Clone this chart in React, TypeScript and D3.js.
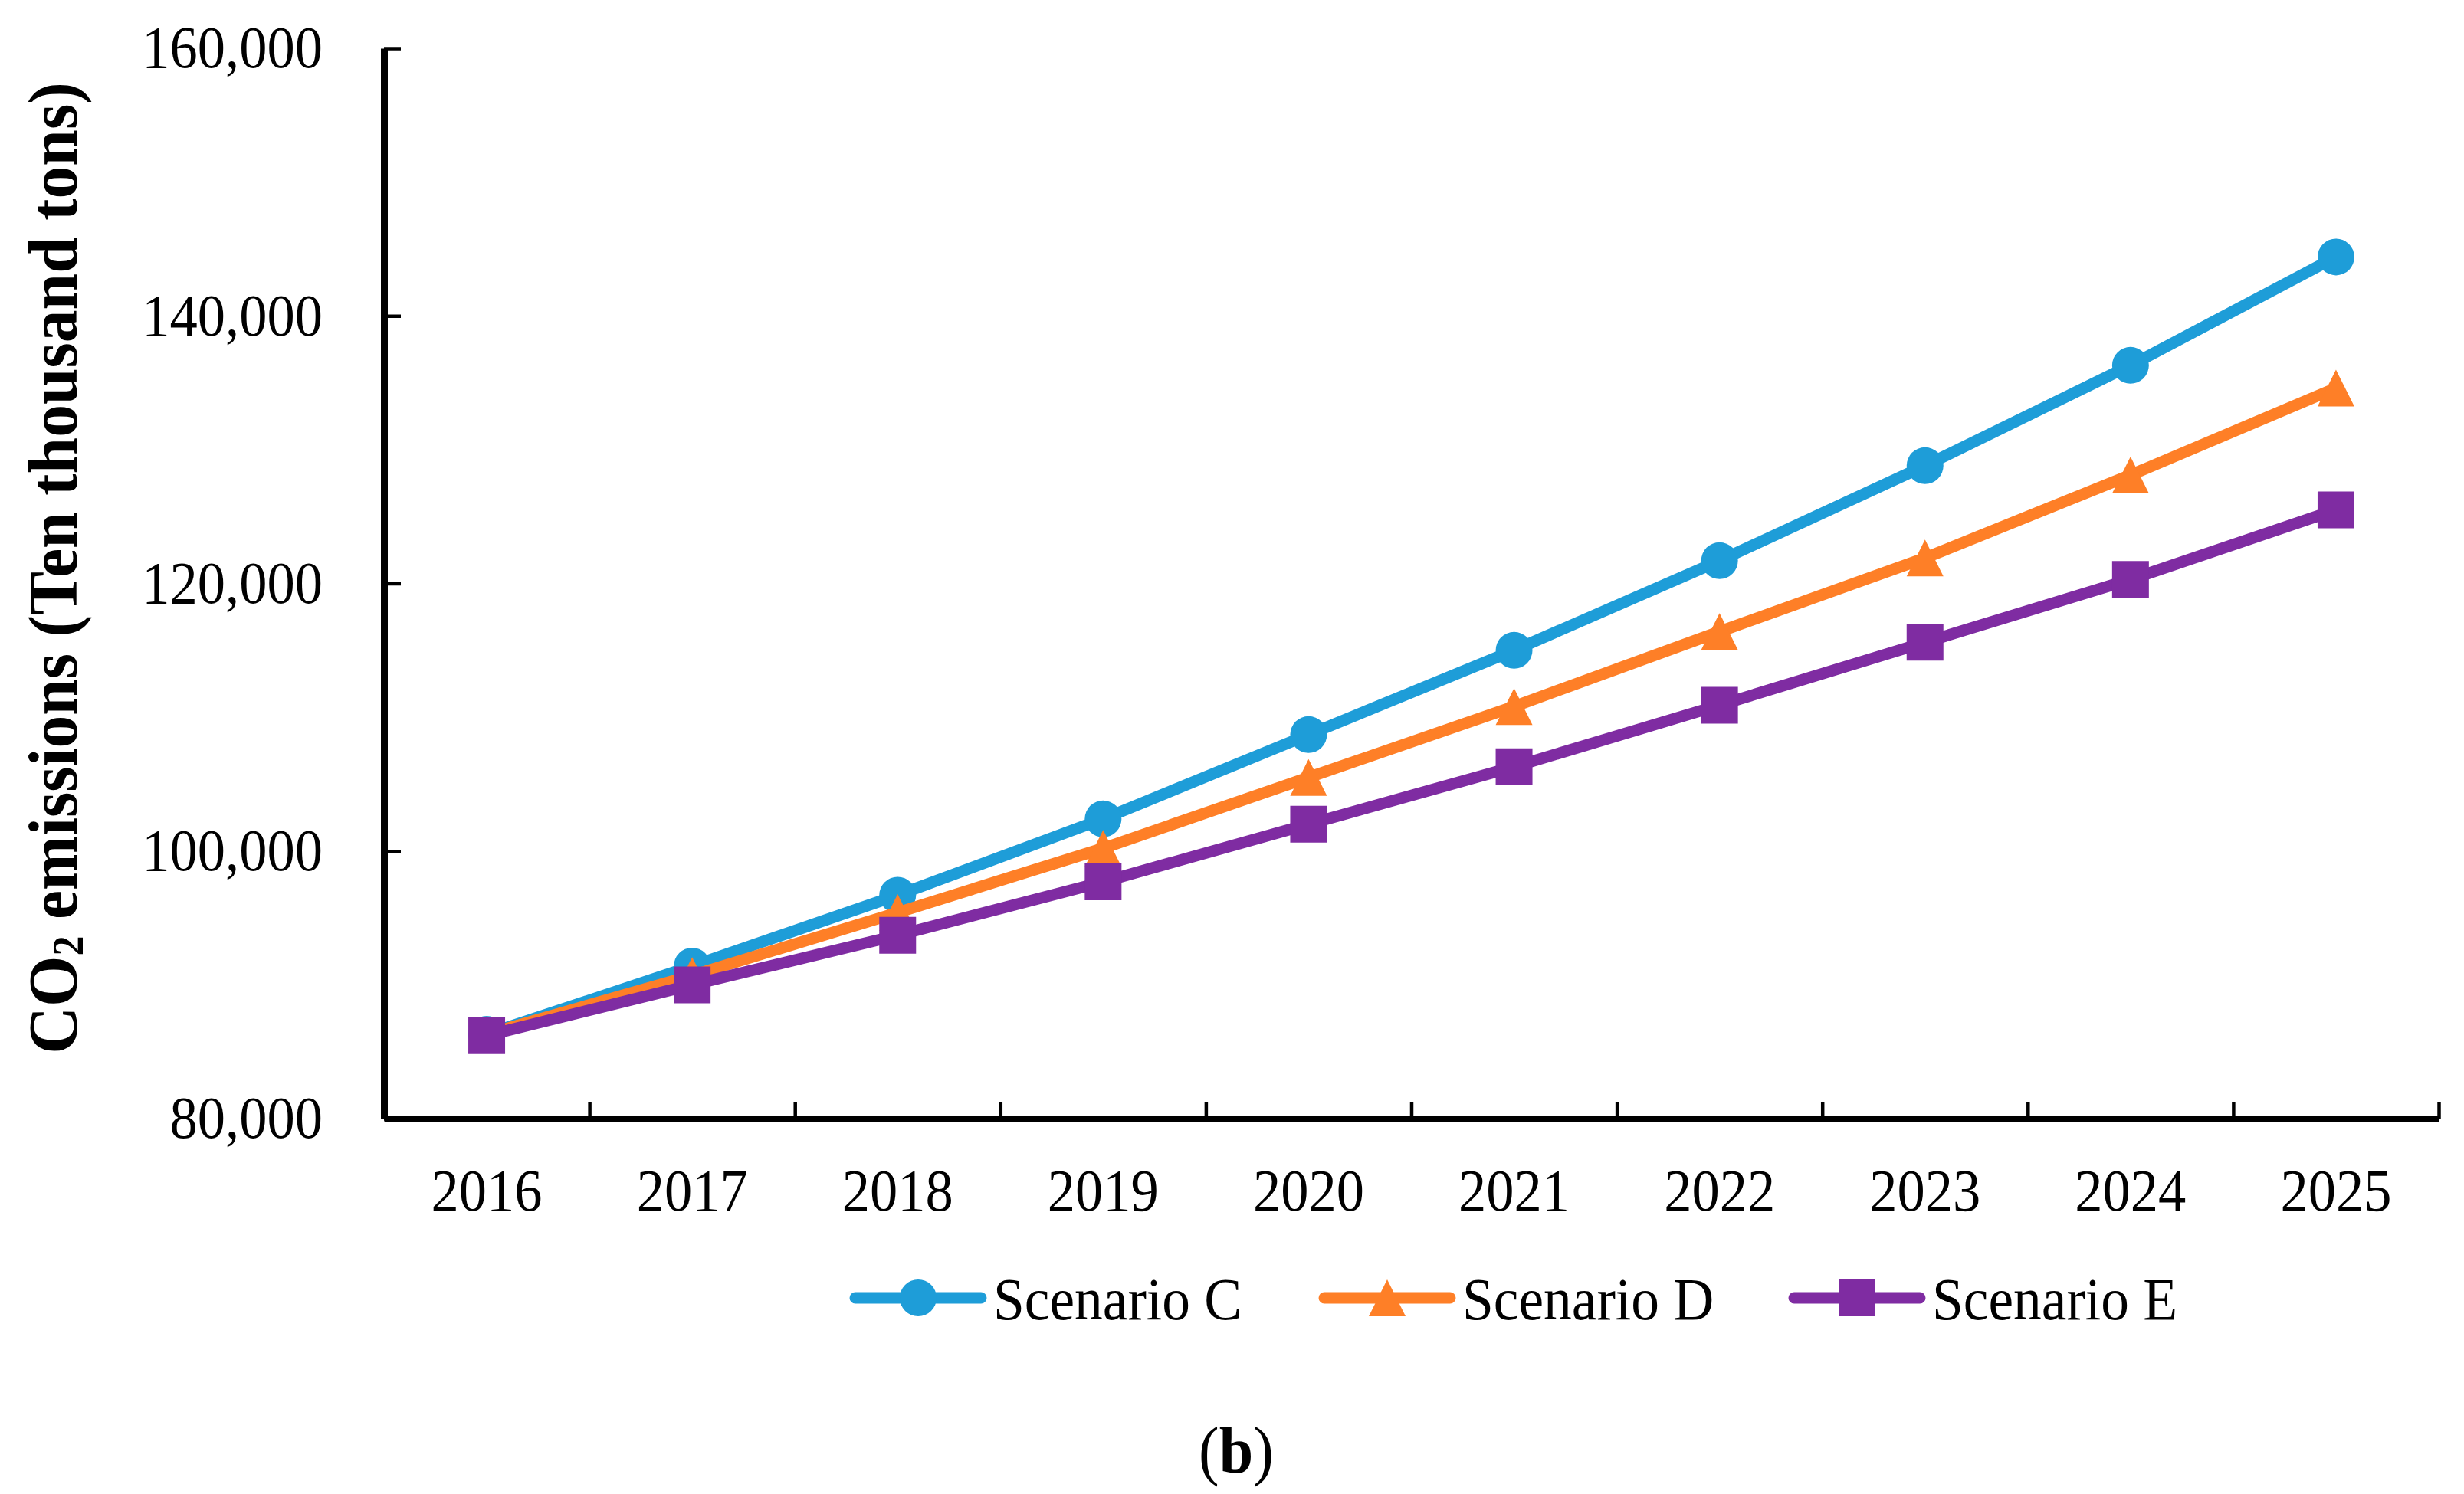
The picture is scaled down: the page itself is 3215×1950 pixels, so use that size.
import React, { useEffect, useRef } from 'react'
import * as d3 from 'd3'

const years = ['2016', '2017', '2018', '2019', '2020', '2021', '2022', '2023', '2024', '2025']
const scenarioC = [86300, 91400, 96700, 102400, 108700, 115000, 121700, 128800, 136300, 144400]
const scenarioD = [86300, 90700, 95400, 100200, 105500, 110800, 116400, 121900, 128100, 134600]
const scenarioE = [86200, 90000, 93700, 97700, 102000, 106300, 110900, 115600, 120300, 125500]
const yTicks = [80000, 100000, 120000, 140000, 160000]

const series = [
  { name: 'Scenario C', values: scenarioC, color: '#1E9DD8', shape: 'circle' },
  { name: 'Scenario D', values: scenarioD, color: '#FE7F27', shape: 'triangle' },
  { name: 'Scenario E', values: scenarioE, color: '#7F2CA2', shape: 'square' },
]

const W = 3215
const H = 1950
const FONT = '"Times New Roman", "Liberation Serif", serif'
const SX = 0.93

export default function App() {
  const ref = useRef<SVGSVGElement | null>(null)

  useEffect(() => {
    document.body.style.margin = '0'
    const svg = d3.select(ref.current!)
    svg.selectAll('*').remove()
    const margin = { top: 63, right: 33, bottom: 490, left: 501 }
    const left = margin.left, right = W - margin.right
    const top = margin.top, bottom = H - margin.bottom

    const x = d3.scaleBand<string>().domain(years).range([left, right])
    const xIdx = d3.scaleLinear().domain([0, years.length]).range([left, right])
    const y = d3.scaleLinear().domain([80000, 160000]).range([bottom, top])
    const cx = (yr: string) => (x(yr) ?? 0) + x.bandwidth() / 2

    const markerPath = (shape: string, s: number) => {
      if (shape === 'circle') return d3.symbol(d3.symbolCircle, Math.PI * (s / 2) ** 2)()
      if (shape === 'square') return d3.symbol(d3.symbolSquare, s * s)()
      const h = s
      return `M0,${-h / 2}L${s / 2},${h / 2}L${-s / 2},${h / 2}Z`
    }

    // x axis: ticks at category boundaries, pointing inward
    const gx = svg.append('g').attr('transform', `translate(0,${bottom})`)
      .call(d3.axisBottom(xIdx).ticks(years.length).tickSize(-22).tickSizeOuter(0).tickFormat(() => ''))
    gx.select('.domain').attr('stroke-width', 9).attr('stroke', '#000')
    gx.selectAll('.tick line').attr('stroke-width', 4.5).attr('stroke', '#000')
    gx.selectAll('.tick').filter((d: any) => d === 0).remove()

    // x labels
    const gxl = svg.append('g').attr('transform', `translate(0,${bottom})`)
      .call(d3.axisBottom(x).tickSize(0).tickPadding(0))
    gxl.select('.domain').remove()
    gxl.selectAll('.tick text')
      .attr('font-family', FONT).attr('font-size', 78).attr('fill', '#000')
      .attr('dy', null).attr('y', 120)
      .attr('transform', `scale(${SX},1)`)

    // y axis
    const gy = svg.append('g').attr('transform', `translate(${left},0)`)
      .call(d3.axisLeft(y).tickValues(yTicks).tickSize(-22).tickSizeOuter(0).tickPadding(80 / SX).tickFormat(d3.format(',')))
    gy.select('.domain').attr('stroke-width', 9).attr('stroke', '#000')
    gy.selectAll('.tick line').attr('stroke-width', 4.5).attr('stroke', '#000')
    gy.selectAll('.tick text')
      .attr('font-family', FONT).attr('font-size', 78).attr('fill', '#000')
      .attr('transform', `scale(${SX},1)`)

    // y title
    const yt = svg.append('text')
      .attr('transform', `translate(100,${(top + bottom) / 2 - 20}) rotate(-90) scale(${SX},1)`)
      .attr('text-anchor', 'middle')
      .attr('font-family', FONT).attr('font-size', 92).attr('font-weight', 'bold')
    yt.append('tspan').text('CO')
    yt.append('tspan').attr('font-size', 56).attr('dy', 8).text('2')
    yt.append('tspan').attr('dy', -8).text(' emissions (Ten thousand tons)')

    // series
    const line = d3.line<number>().x((_, i) => cx(years[i])).y(v => y(v))
    series.forEach(s => {
      const g = svg.append('g')
      g.append('path').attr('d', line(s.values)!).attr('fill', 'none')
        .attr('stroke', s.color).attr('stroke-width', 15).attr('stroke-linejoin', 'round')
      g.selectAll('path.m').data(s.values).enter().append('path').attr('class', 'm')
        .attr('d', markerPath(s.shape, 48))
        .attr('transform', (v, i) => `translate(${cx(years[i])},${y(v)})`)
        .attr('fill', s.color)
    })

    // legend
    const legendX = [1108, 1720, 2333]
    const legendY = 1694
    series.forEach((s, i) => {
      const g = svg.append('g').attr('transform', `translate(${legendX[i]},${legendY})`)
      g.append('line').attr('x1', 8).attr('x2', 172).attr('y1', 0).attr('y2', 0)
        .attr('stroke', s.color).attr('stroke-width', 15).attr('stroke-linecap', 'round')
      g.append('path').attr('d', markerPath(s.shape, 48)).attr('transform', 'translate(90,0)').attr('fill', s.color)
      g.append('text').attr('transform', `translate(188,28) scale(${SX},1)`)
        .attr('font-family', FONT).attr('font-size', 79).attr('fill', '#000').text(s.name)
    })

    // panel label
    const pl = svg.append('text')
      .attr('transform', `translate(1613,1922) scale(${SX},1)`)
      .attr('text-anchor', 'middle').attr('font-family', FONT).attr('font-size', 86).attr('fill', '#000')
    pl.append('tspan').text('(')
    pl.append('tspan').attr('font-weight', 'bold').text('b')
    pl.append('tspan').text(')')
  }, [])

  return <svg ref={ref} width={W} height={H} viewBox={`0 0 ${W} ${H}`} style={{ display: 'block', background: '#fff' }} />
}
